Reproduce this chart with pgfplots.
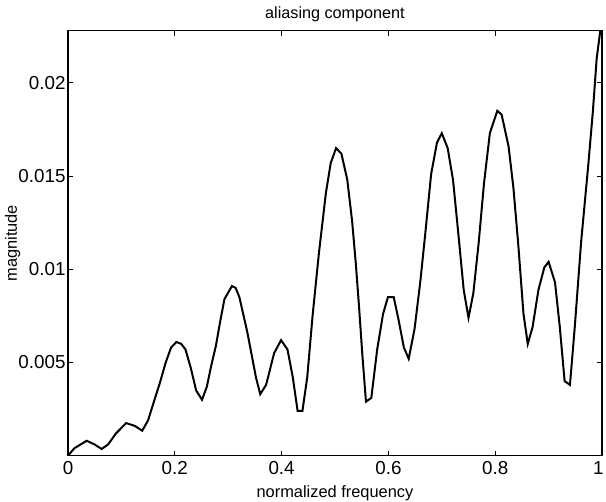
\documentclass[border=0pt]{standalone}
\usepackage{pgfplots}
\pgfplotsset{compat=1.18}
\usepackage{fontspec}
\setmainfont{Liberation Sans}
\begin{document}
\begin{tikzpicture}
\begin{axis}[
  width=267pt, height=212.5pt, scale only axis,
  xmin=0, xmax=1, ymin=0, ymax=0.0228,
  xtick={0,0.2,0.4,0.6,0.8},
  xticklabels={0,0.2,0.4,0.6,0.8},
  extra x ticks={1},
  extra x tick labels={1},
  extra x tick style={xticklabel style={xshift=-1.8pt}},
  ytick={0.005,0.01,0.015,0.02},
  yticklabels={0.005,0.01,0.015,0.02},
  tick align=inside, major tick length=2.5pt,
  tick style={black, line width=0.5pt},
  axis line style={line width=0.7pt},
  every tick label/.append style={font=\fontsize{9.4}{11}\selectfont},
  yticklabel style={xshift=2.3pt},
  xticklabel style={yshift=0.5pt},
  title={aliasing component},
  title style={font=\fontsize{8.1}{10}\selectfont, yshift=-5pt},
  xlabel={normalized frequency},
  ylabel={magnitude},
  label style={font=\fontsize{8.2}{10}\selectfont},
  xlabel style={yshift=1.5pt},
  ylabel style={yshift=-7.8pt},
  scaled y ticks=false,
  clip=true,
]
\addplot[black, line width=1pt] coordinates {
(0,0.0000) (0.012,0.0004) (0.035,0.0008) (0.05,0.0006) (0.063,0.00036)
(0.075,0.0006) (0.09,0.0012) (0.109,0.00175) (0.125,0.0016) (0.139,0.00134)
(0.150,0.0019) (0.162,0.0030) (0.172,0.0039) (0.183,0.0050) (0.193,0.0058)
(0.203,0.0061) (0.212,0.0060) (0.220,0.0057) (0.230,0.0047) (0.240,0.0035)
(0.251,0.0030) (0.260,0.0037) (0.268,0.0048) (0.277,0.0059) (0.285,0.0072)
(0.293,0.0084) (0.307,0.0091) (0.314,0.0090) (0.321,0.0085) (0.336,0.0066)
(0.352,0.0042) (0.360,0.0033) (0.371,0.0038) (0.386,0.0055) (0.399,0.0062)
(0.411,0.0057) (0.421,0.0042) (0.430,0.0024) (0.439,0.0024) (0.448,0.0042)
(0.458,0.0075) (0.470,0.0109) (0.483,0.0141) (0.492,0.0157) (0.502,0.0165)
(0.512,0.0162) (0.523,0.0148) (0.532,0.0126) (0.539,0.0103) (0.545,0.0080)
(0.551,0.0055) (0.558,0.0029) (0.568,0.0031) (0.579,0.0057) (0.590,0.0076)
(0.599,0.0085) (0.610,0.0085) (0.619,0.0073) (0.629,0.0058) (0.638,0.0052)
(0.649,0.0068) (0.660,0.0094) (0.669,0.0119) (0.680,0.0151) (0.691,0.0168)
(0.700,0.0173) (0.711,0.0165) (0.721,0.0148) (0.731,0.0119) (0.741,0.0089)
(0.750,0.0074) (0.759,0.0087) (0.769,0.0114) (0.779,0.0146) (0.790,0.0173)
(0.804,0.0185) (0.812,0.0183) (0.825,0.0166) (0.834,0.0144) (0.843,0.0114)
(0.853,0.0076) (0.861,0.0060) (0.870,0.0069) (0.881,0.0089) (0.892,0.0101)
(0.900,0.0104) (0.912,0.0093) (0.921,0.0069) (0.930,0.0040) (0.940,0.0038)
(0.949,0.0069) (0.961,0.0115) (0.974,0.0155) (0.983,0.0185) (0.990,0.0213)
(1.000,0.0235)
};
\end{axis}
\pgfresetboundingbox
\path[use as bounding box] ([xshift=-34pt,yshift=-23pt]current axis.south west) rectangle ([xshift=2pt,yshift=15.35pt]current axis.north east);
\end{tikzpicture}
\end{document}
